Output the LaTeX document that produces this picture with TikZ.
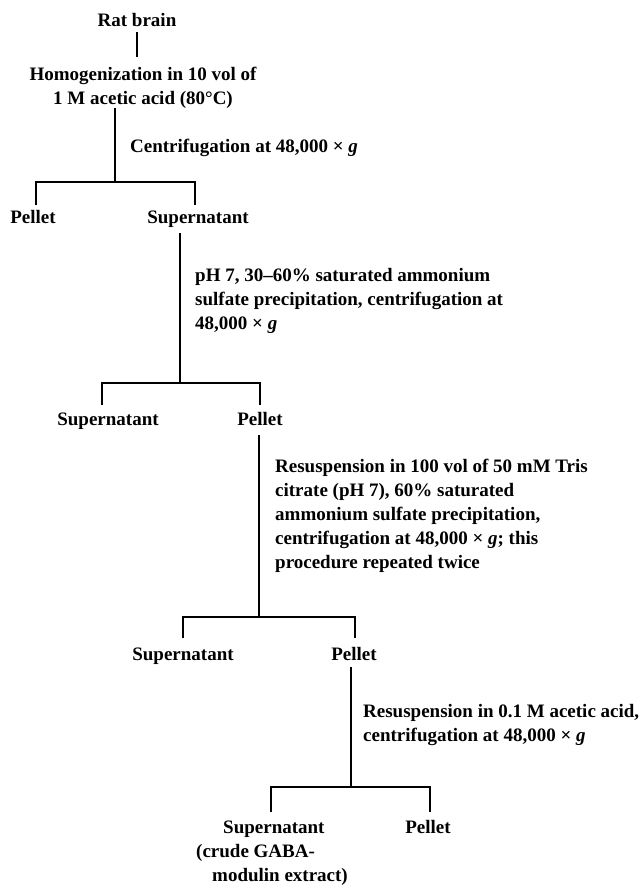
\documentclass[tikz,border=0pt]{standalone}
\usepackage{fontspec}
\setmainfont{Liberation Serif}
\begin{document}
\begin{tikzpicture}[x=1pt,y=-1pt,
  txt/.style={inner sep=0pt,font=\fontsize{19}{24}\selectfont\bfseries,align=left},
  link/.style={line width=1.3pt}]
\path[use as bounding box] (0,0) rectangle (638,886);
% level 0
\node[txt,anchor=base] (rat) at (137,26) {Rat brain};
\node[txt,anchor=base,align=center] (hom) at (143,104) {Homogenization in 10 vol of\\1 M acetic acid (80°C)};
\node[txt,anchor=base west] (c1) at (130,152) {Centrifugation at 48,000 × \textit{g}};
\node[txt,anchor=base] (p1) at (33,223) {Pellet};
\node[txt,anchor=base] (s1) at (198,223) {Supernatant};
\coordinate (r1a) at (137,32);
\coordinate (r1b) at (137,57);
\draw[link] (r1a) -- (r1b);
\coordinate (t1) at (115,108);
\coordinate (b1) at (115,182);
\coordinate (b1l) at (36,182);
\coordinate (b1r) at (195,182);
\coordinate (d1l) at (36,205);
\coordinate (d1r) at (195,205);
\draw[link] (t1) -- (b1);
\draw[link] (d1l) -- (b1l) -- (b1r) -- (d1r);
% level 1
\node[txt,anchor=base west] (c2) at (195,329) {pH 7, 30–60\% saturated ammonium\\sulfate precipitation, centrifugation at\\48,000 × \textit{g}};
\node[txt,anchor=base] (s2) at (108,425) {Supernatant};
\node[txt,anchor=base] (p2) at (260,425) {Pellet};
\coordinate (t2) at (180,233);
\coordinate (b2) at (180,383);
\coordinate (b2l) at (102,383);
\coordinate (b2r) at (260,383);
\coordinate (d2l) at (102,405);
\coordinate (d2r) at (260,405);
\draw[link] (t2) -- (b2);
\draw[link] (d2l) -- (b2l) -- (b2r) -- (d2r);
% level 2
\node[txt,anchor=base west] (c3) at (275,568) {Resuspension in 100 vol of 50 mM Tris\\citrate (pH 7), 60\% saturated\\ammonium sulfate precipitation,\\centrifugation at 48,000 × \textit{g}; this\\procedure repeated twice};
\node[txt,anchor=base] (s3) at (183,660) {Supernatant};
\node[txt,anchor=base] (p3) at (354,660) {Pellet};
\coordinate (t3) at (259,435);
\coordinate (b3) at (259,617);
\coordinate (b3l) at (183,617);
\coordinate (b3r) at (355,617);
\coordinate (d3l) at (183,638);
\coordinate (d3r) at (355,638);
\draw[link] (t3) -- (b3);
\draw[link] (d3l) -- (b3l) -- (b3r) -- (d3r);
% level 3
\node[txt,anchor=base west] (c4) at (363,741) {Resuspension in 0.1 M acetic acid,\\centrifugation at 48,000 × \textit{g}};
\node[txt,anchor=base west] (s4) at (196,881) {\hspace*{27pt}Supernatant\\(crude GABA-\\\hspace*{16pt}modulin extract)};
\node[txt,anchor=base] (p4) at (428,833) {Pellet};
\coordinate (t4) at (351,667);
\coordinate (b4) at (351,787);
\coordinate (b4l) at (271,787);
\coordinate (b4r) at (430,787);
\coordinate (d4l) at (271,812);
\coordinate (d4r) at (430,812);
\draw[link] (t4) -- (b4);
\draw[link] (d4l) -- (b4l) -- (b4r) -- (d4r);
\end{tikzpicture}
\end{document}
